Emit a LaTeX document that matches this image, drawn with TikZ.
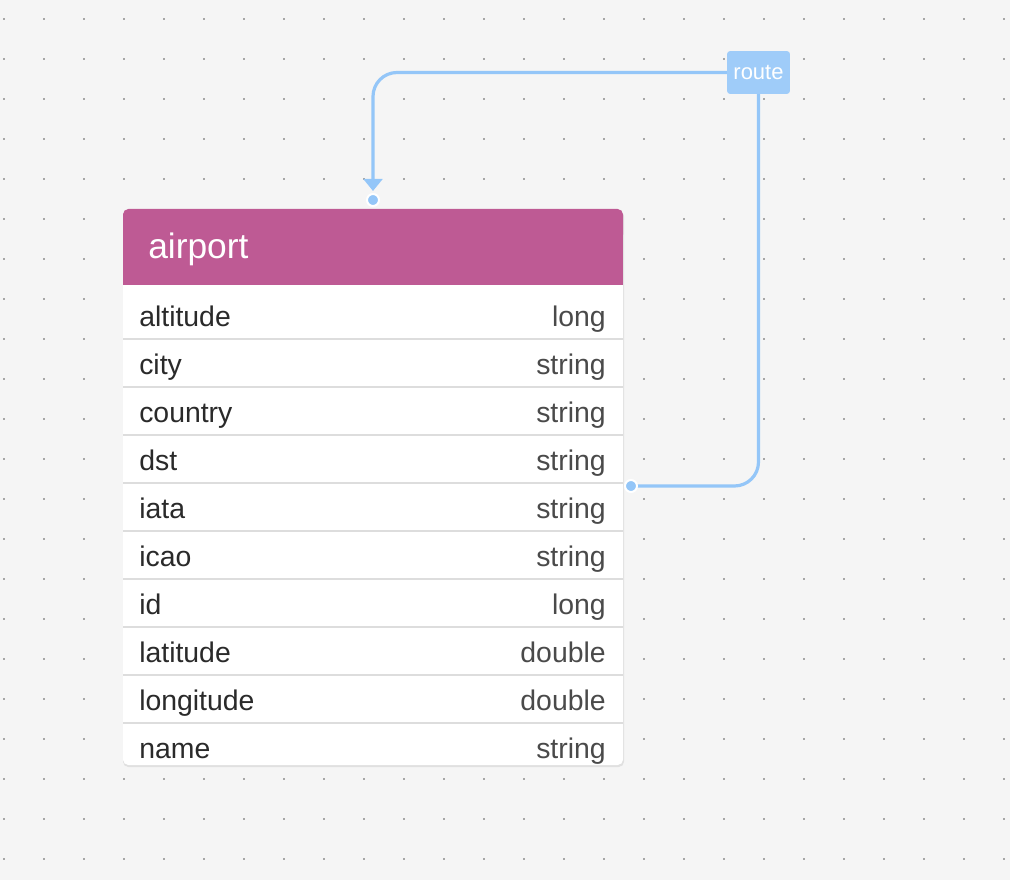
\documentclass[tikz,border=0pt]{standalone}
\usepackage{fontspec}
\setmainfont{Liberation Sans}
\usetikzlibrary{arrows.meta,positioning}
\definecolor{bgcol}{HTML}{F5F5F5}
\definecolor{headcol}{HTML}{BE5A94}
\definecolor{linkcol}{HTML}{94C6F8}
\definecolor{sepcol}{HTML}{DDDDDD}
\definecolor{txtcol}{HTML}{2A2A2A}
\tikzset{>={Triangle[length=9pt,width=14pt]},
  rowlabel/.style={anchor=base west,font=\fontsize{21.3}{21.3}\selectfont,text=txtcol,inner sep=0},
  rowtype/.style={anchor=base east,font=\fontsize{21.3}{21.3}\selectfont,text=txtcol!85,inner sep=0},
  link/.style={linkcol,line width=2.4pt,rounded corners=18pt},
  port/.style={circle,fill=linkcol,draw=white,line width=1.5pt,inner sep=0,minimum size=9pt}}
\begin{document}
\begin{tikzpicture}[x=0.75pt,y=-0.75pt]
            \fill[bgcol] (0,0) rectangle (1010,880);
            \useasboundingbox (0,0) rectangle (1010,880);
    
            \foreach \i in {0,...,25}
            \foreach \j in {0,...,21}
            {
            \fill[gray!70] (4+40*\i-1,19+40*\j-1) rectangle ++(2,2);
            }
    
            % table
            \fill[black!12,rounded corners=4pt] (123,211) rectangle (624,767);
            \fill[white,rounded corners=4pt] (123,209) rectangle (623,765);
            \fill[headcol,rounded corners=4pt] (123,209) rectangle (623,240);
            \fill[headcol] (123,230) rectangle (623,285);
            \node[anchor=base west,text=white,font=\fontsize{26.5}{26.5}\selectfont,inner sep=0] (title) at (148,259) {airport};
    
            \foreach \k/\a/\b in {0/altitude/long,1/city/string,2/country/string,3/dst/string,4/iata/string,5/icao/string,6/id/long,7/latitude/double,8/longitude/double,9/name/string}
            {
            \node[rowlabel] (f\k) at (139,326.5+48*\k) {\a};
            \node[rowtype] (t\k) at (606,326.5+48*\k) {\b};
            }
            \foreach \k in {1,...,9}
            {
            \draw[sepcol,line width=1pt] (123,291+48*\k) -- (623,291+48*\k);
            }
    
            % route
            \node[fill=linkcol!90!white,rounded corners=2pt,text=white,font=\fontsize{16.5}{16.5}\selectfont,minimum width=47pt,minimum height=32pt,inner sep=0] (route) at (758.5,72.5) {route};
            \coordinate (top) at (373,191);
            \coordinate (side) at (631,486);
            \draw[link,->] (route.west) -| (top);
            \draw[link] (route.south) |- (side);
            \node[port] (p1) at (373,200) {};
            \node[port] (p2) at (side) {};
\end{tikzpicture}
\end{document}
